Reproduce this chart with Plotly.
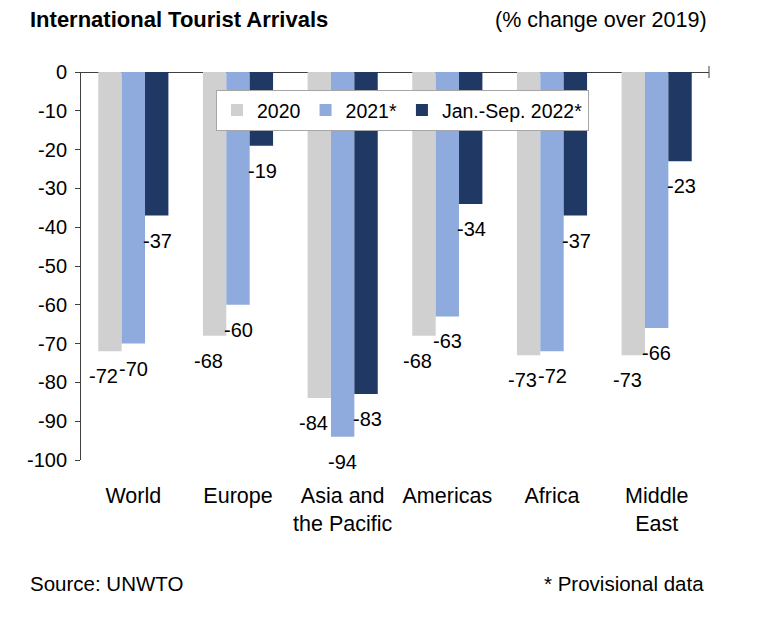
import plotly.graph_objects as go

categories = ["World", "Europe", "Asia and<br>the Pacific", "Americas", "Africa", "Middle<br>East"]
series_names = ["2020", "2021*", "Jan.-Sep. 2022*"]
values_2020 = [-72, -68, -84, -68, -73, -73]
values_2021 = [-70, -60, -94, -63, -72, -66]
values_2022 = [-37, -19, -83, -34, -37, -23]
y_ticks = [0, -10, -20, -30, -40, -50, -60, -70, -80, -90, -100]

colors = ["#D0D0D0", "#8FAADC", "#1F3864"]
all_values = [values_2020, values_2021, values_2022]

FONT = "Liberation Sans, Arial, sans-serif"
PW, PH = 628, 388  # plot area size in px

fig = go.Figure()
for name, vals, col in zip(series_names, all_values, colors):
    fig.add_trace(go.Bar(x=categories, y=vals, name=name, marker=dict(color=col, line=dict(width=0))))

# data labels below the bar ends
bar_px = PW / 6 * 0.67 / 3
label_dx = [-6, 0, 1]
for i, vals in enumerate(all_values):
    for c, v in zip(categories, vals):
        fig.add_annotation(x=c, y=v, text=str(v), showarrow=False,
                           xshift=(i - 1) * bar_px + label_dx[i], yshift=-25,
                           font=dict(family=FONT, size=20, color="black"))

fig.update_layout(
    width=751, height=609,
    margin=dict(l=73, r=50, t=64, b=157),
    plot_bgcolor="white", paper_bgcolor="white",
    barmode="group", bargap=0.33, bargroupgap=0,
    font=dict(family=FONT, size=20, color="black"),
    showlegend=True,
    legend=dict(orientation="h", x=0.215, y=0.954, xanchor="left", yanchor="top",
                bgcolor="white", bordercolor="#A6A6A6", borderwidth=1,
                font=dict(family=FONT, size=19.5, color="black"),
                itemwidth=30, traceorder="normal"),
)

fig.update_yaxes(range=[-100, 0], tickvals=y_ticks, ticktext=[str(t) for t in y_ticks],
                 showgrid=False, showline=True, linecolor="#404040", linewidth=1,
                 ticks="outside", ticklen=5, tickcolor="#404040",
                 zeroline=True, zerolinecolor="#404040", zerolinewidth=1,
                 ticklabelstandoff=4,
                 tickfont=dict(family=FONT, size=20, color="black"))
fig.update_xaxes(showgrid=False, showline=False, ticks="outside", ticklen=16,
                 tickcolor="rgba(0,0,0,0)",
                 tickfont=dict(family=FONT, size=21.5, color="black"))

# tick at right end of the top axis
fig.add_shape(type="line", xref="paper", yref="paper", x0=1, x1=1,
              y0=1 - 6 / PH, y1=1 + 6 / PH, line=dict(color="#404040", width=1))

fig.add_annotation(text="International Tourist Arrivals", xref="paper", yref="paper",
                   x=-53 / PW, y=1 + 53 / PH, xanchor="left", yanchor="middle",
                   showarrow=False, font=dict(family=FONT, size=22, color="black", weight="bold"))
fig.add_annotation(text="(% change over 2019)", xref="paper", yref="paper",
                   x=1, y=1 + 52 / PH, xanchor="right", yanchor="middle",
                   showarrow=False, font=dict(family=FONT, size=21.5, color="black"))
fig.add_annotation(text="Source: UNWTO", xref="paper", yref="paper",
                   x=-53 / PW, y=-123 / PH, xanchor="left", yanchor="middle",
                   showarrow=False, font=dict(family=FONT, size=20.5, color="black"))
fig.add_annotation(text="* Provisional data", xref="paper", yref="paper",
                   x=1 - 3 / PW, y=-123 / PH, xanchor="right", yanchor="middle",
                   showarrow=False, font=dict(family=FONT, size=20.5, color="black"))

fig.write_html("out.html")
